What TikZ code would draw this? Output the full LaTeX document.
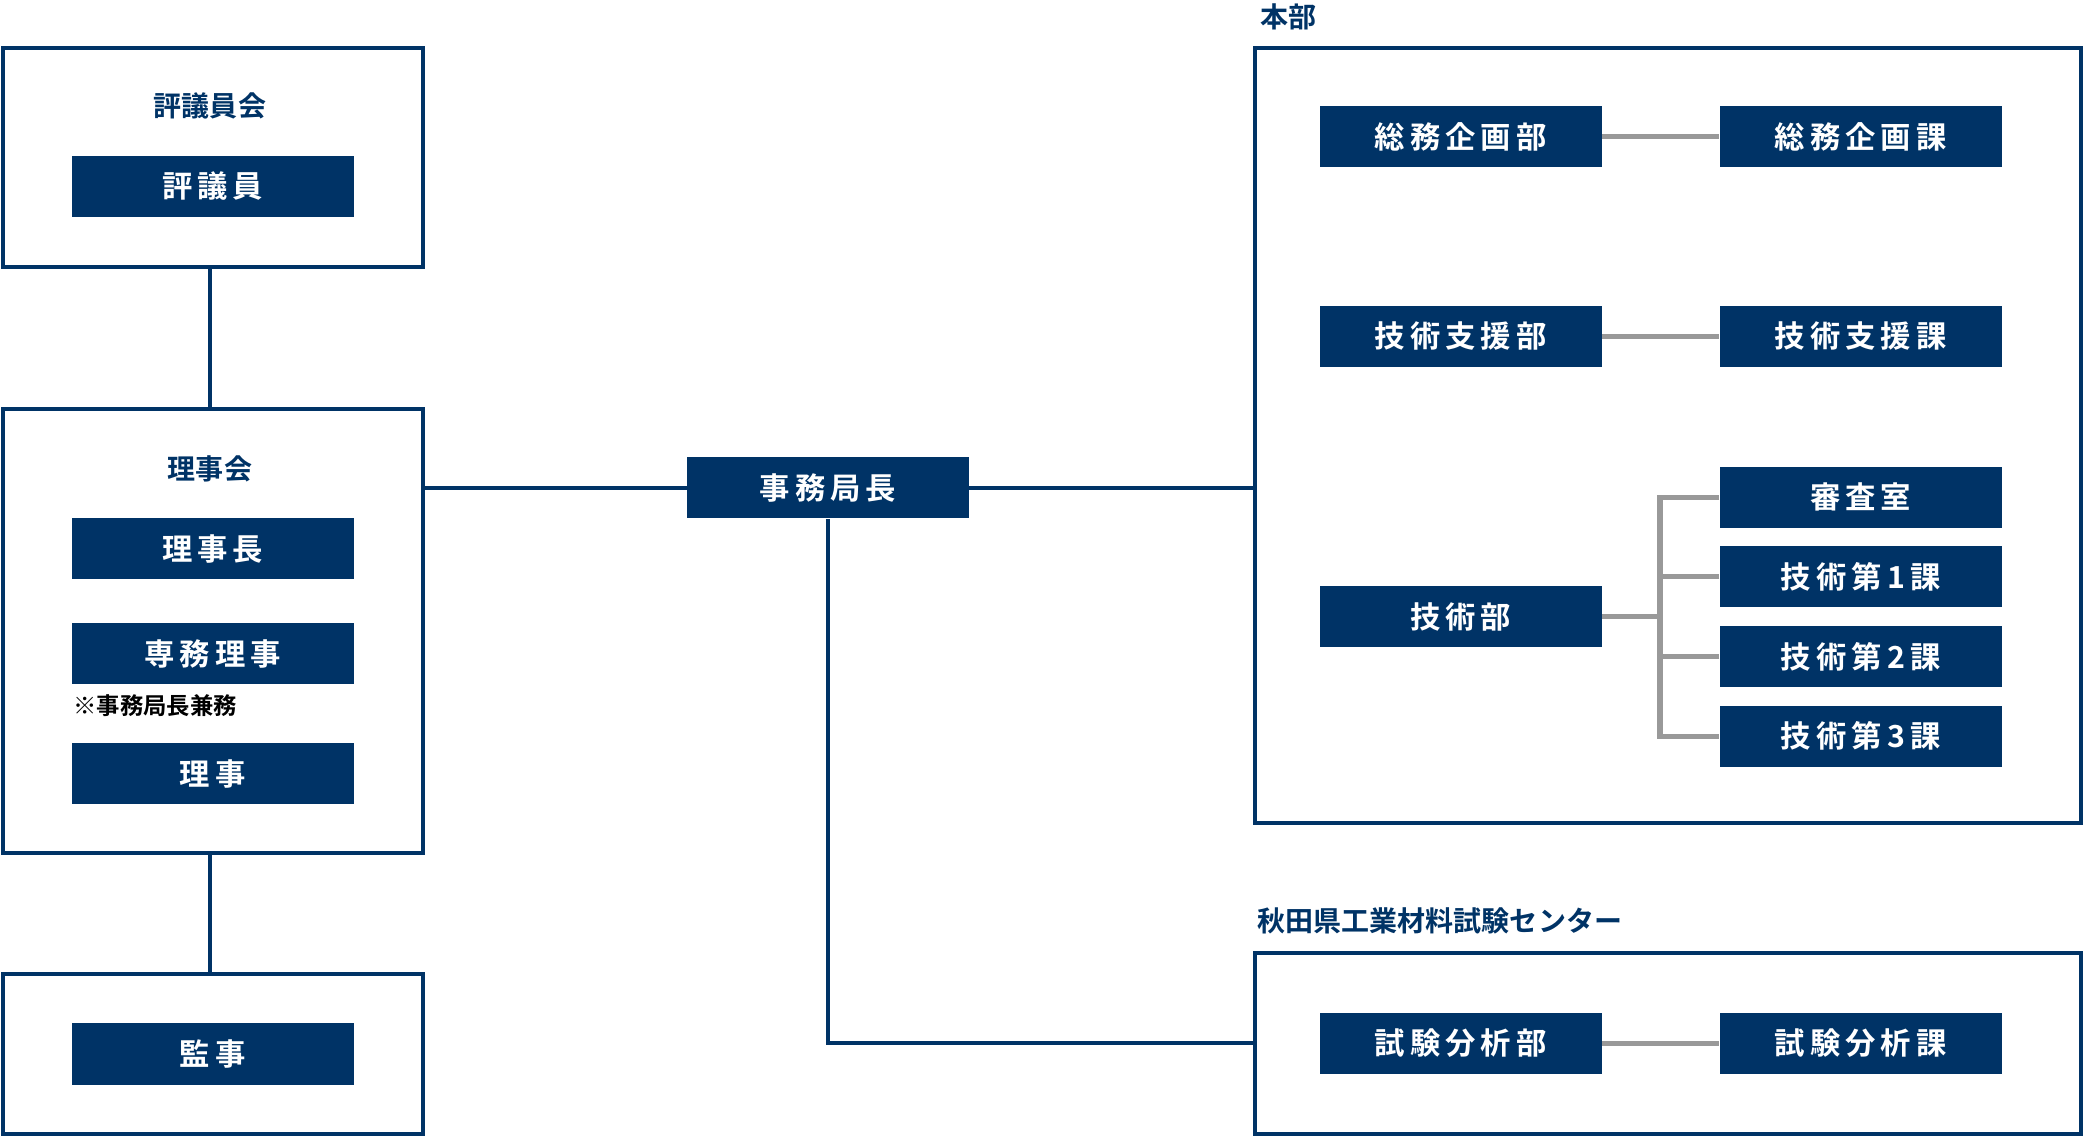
\documentclass[tikz,border=0pt]{standalone}
\usepackage{fontspec}
\setmainfont{Noto Sans CJK JP}[BoldFont={Noto Sans CJK JP Bold}]
\usetikzlibrary{positioning}
\definecolor{navy}{RGB}{0,51,102}
\definecolor{linegrey}{RGB}{153,153,153}
\tikzset{
  frame/.style = {draw=navy, line width=1.7pt},
  % filled post boxes
  postbox/.style = {fill=navy, text=white, minimum width=4.24cm, minimum height=0.92cm, inner sep=0pt, font=\bfseries\fontsize{13}{13}\selectfont},
  title/.style = {text=navy, font=\bfseries\fontsize{12}{12}\selectfont, inner sep=0pt},
  navyline/.style = {draw=navy, line width=1.7pt},
  greyline/.style = {draw=linegrey, line width=2.2pt}
}
\begin{document}
\begin{tikzpicture}[x=0.02cm,y=-0.02cm]
  \useasboundingbox (0,0) rectangle (1568,855);
  % left column frames
  \draw[frame] (2,36) rectangle (318,201);
  \draw[frame] (2,308) rectangle (318,642);
  \draw[frame] (2,733) rectangle (318,853);
  \coordinate (c1b) at (158,201); \coordinate (c2t) at (158,308);
  \coordinate (c2b) at (158,642); \coordinate (c3t) at (158,733);
  \coordinate (c2r) at (318,367);
  \node[title] (hyogiinkai) at (158,80) {評議員会};
  \node[postbox] (hyogiin) at (160,140) {評\,議\,員};
  \node[title] (rijikai) at (158,353) {理事会};
  \node[postbox] (rijicho) at (160,413) {理\,事\,長};
  \node[postbox] (senmu) at (160,492) {専\,務\,理\,事};
  \node[title, text=black, font=\bfseries\fontsize{10}{10}\selectfont, anchor=west] (note) at (55,531) {※事務局長兼務};
  \node[postbox] (riji) at (160,582) {理\,事};
  \node[postbox] (kanji) at (160,793) {監\,事};
  % secretariat
  \node[postbox] (jimukyokucho) at (623,367) {事\,務\,局\,長};
  % right frames
  \draw[frame] (944,36) rectangle (1566,619);
  \draw[frame] (944,717) rectangle (1566,853);
  \coordinate (honbu) at (944,367); \coordinate (center) at (944,785);
  \node[title, anchor=west] (honbulabel) at (948,13) {本部};
  \node[title, anchor=west] (centerlabel) at (946,693) {秋田県工業材料試験センター};
  \node[postbox] (somubu) at (1099,103) {総\,務\,企\,画\,部};
  \node[postbox] (somuka) at (1400,103) {総\,務\,企\,画\,課};
  \node[postbox] (shienbu) at (1099,253) {技\,術\,支\,援\,部};
  \node[postbox] (shienka) at (1400,253) {技\,術\,支\,援\,課};
  \node[postbox] (gijutsubu) at (1099,464) {技\,術\,部};
  \node[postbox] (shinsa) at (1400,374) {審\,査\,室};
  \node[postbox] (ka1) at (1400,434) {技\,術\,第\,1\,課};
  \node[postbox] (ka2) at (1400,494) {技\,術\,第\,2\,課};
  \node[postbox] (ka3) at (1400,554) {技\,術\,第\,3\,課};
  \node[postbox] (bunsekibu) at (1099,785) {試\,験\,分\,析\,部};
  \node[postbox] (bunsekika) at (1400,785) {試\,験\,分\,析\,課};
  % connectors
  \draw[navyline] (c1b) -- (c2t);
  \draw[navyline] (c2b) -- (c3t);
  \draw[navyline] (c2r) -- (jimukyokucho.west);
  \draw[navyline] (jimukyokucho.east) -- (honbu);
  \draw[navyline] (jimukyokucho.south) |- (center);
  \draw[greyline] (somubu) -- (somuka);
  \draw[greyline] (shienbu) -- (shienka);
  \draw[greyline] (bunsekibu) -- (bunsekika);
  \coordinate (bus) at (1249,464);
  \draw[greyline] (gijutsubu.east) -- (bus);
  \draw[greyline] (shinsa.west) -| (bus) |- (ka3.west);
  \foreach \k in {ka1,ka2} \draw[greyline] (\k.west) -- (bus |- \k.west);
\end{tikzpicture}
\end{document}
